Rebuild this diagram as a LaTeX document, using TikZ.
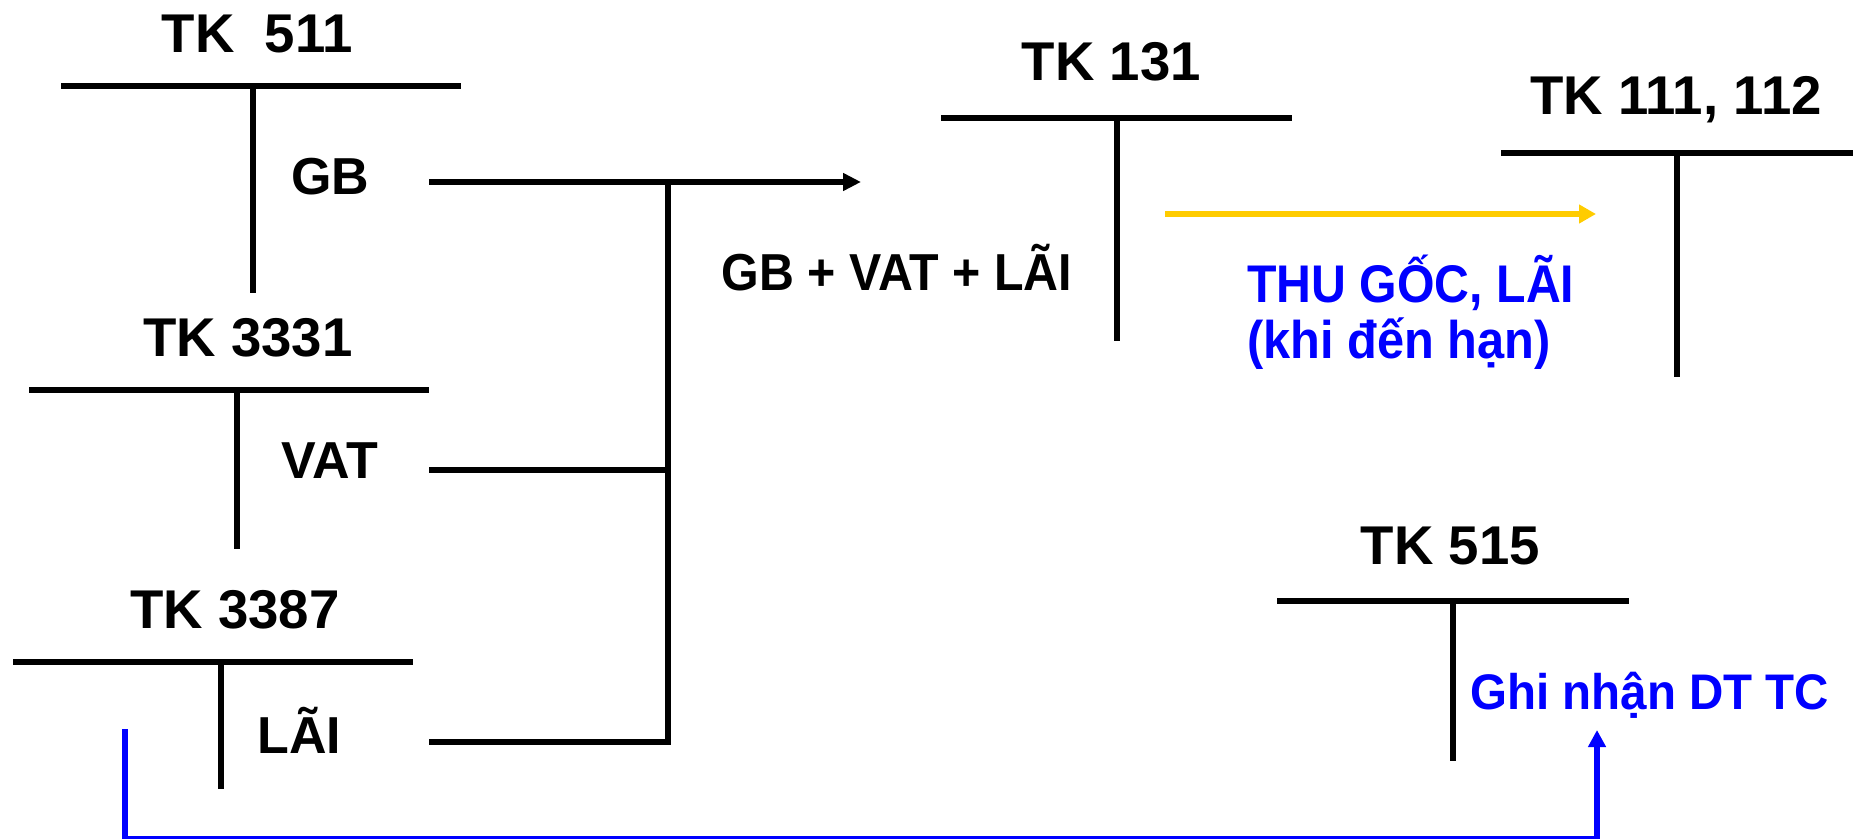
\documentclass[tikz,border=0pt]{standalone}
\usepackage{fontspec}
\setmainfont{Liberation Sans}
\usetikzlibrary{arrows.meta}
\definecolor{pblue}{RGB}{0,0,255}
\definecolor{pgold}{RGB}{255,204,0}
\begin{document}
\begin{tikzpicture}[x=0.5pt,y=-0.5pt,
  hbar/.style={line width=2.9pt},
  vbar/.style={line width=2.8pt},
  conn/.style={line width=2.9pt},
  hd/.style={font=\bfseries\fontsize{27.3}{30}\selectfont, inner sep=0pt, anchor=base},
  lb/.style={font=\bfseries\fontsize{26}{28}\selectfont, inner sep=0pt, anchor=base},
  bl/.style={font=\bfseries\fontsize{26.5}{28}\selectfont, text=pblue, inner sep=0pt, anchor=base west},
  blk/.style={-{Triangle[length=9pt,width=8.5pt]}},
]
\useasboundingbox (0,0) rectangle (1862,839);

% ---- headings
\node[hd] (h511)  at (257.5,53)  {TK\ \ 511};
\node[hd] (h3331) at (248,357)   {TK 3331};
\node[hd] (h3387) at (235,628)   {TK 3387};
\node[hd] (h131)  at (1111.5,81) {TK 131};
\node[hd] (h111)  at (1676,115)  {TK 111, 112};
\node[hd] (h515)  at (1450.5,564){TK 515};

% ---- T-account coordinates
\coordinate (a511l) at (61,86);   \coordinate (a511r) at (461,86);
\coordinate (a511t) at (253,86);  \coordinate (a511b) at (253,293);
\coordinate (a3331l) at (29,390); \coordinate (a3331r) at (429,390);
\coordinate (a3331t) at (237,390);\coordinate (a3331b) at (237,549);
\coordinate (a3387l) at (13,662); \coordinate (a3387r) at (413,662);
\coordinate (a3387t) at (221,662);\coordinate (a3387b) at (221,789);
\coordinate (a131l) at (941,118); \coordinate (a131r) at (1292,118);
\coordinate (a131t) at (1117,118);\coordinate (a131b) at (1117,341);
\coordinate (a111l) at (1501,153);\coordinate (a111r) at (1853,153);
\coordinate (a111t) at (1677,153);\coordinate (a111b) at (1677,377);
\coordinate (a515l) at (1277,601);\coordinate (a515r) at (1629,601);
\coordinate (a515t) at (1453,601);\coordinate (a515b) at (1453,761);

\draw[hbar] (a511l) -- (a511r);   \draw[vbar] (a511t) -- (a511b);
\draw[hbar] (a3331l) -- (a3331r); \draw[vbar] (a3331t) -- (a3331b);
\draw[hbar] (a3387l) -- (a3387r); \draw[vbar] (a3387t) -- (a3387b);
\draw[hbar] (a131l) -- (a131r);   \draw[vbar] (a131t) -- (a131b);
\draw[hbar] (a111l) -- (a111r);   \draw[vbar] (a111t) -- (a111b);
\draw[hbar] (a515l) -- (a515r);   \draw[vbar] (a515t) -- (a515b);

% ---- labels
\node[lb] (gb)  at (330.5,195) {GB};
\node[lb] (vat) at (330,478) {VAT};
\node[lb] (lai) at (299.5,753) {LÃI};
\node[lb] (sum) at (897,291) {\scalebox{0.93}[1]{GB + VAT + LÃI}};
\node[bl] (thu) at (1247,303) {\scalebox{0.91}[1]{THU GỐC, LÃI}};
\node[bl] (khi) at (1247,358) {\scalebox{0.92}[1]{(khi đến hạn)}};
\node[bl, font=\bfseries\fontsize{25}{27}\selectfont] (ghi) at (1470,709) {\scalebox{0.95}[1]{Ghi nhận DT TC}};

% ---- connectors
\coordinate (gbs) at (429,182);  \coordinate (gbj) at (668,182); \coordinate (gbe) at (861,182);
\coordinate (vats) at (429,470); \coordinate (vatj) at (668,470);
\coordinate (lais) at (429,742); \coordinate (laij) at (668,742);
\draw[conn] (gbs) -- (gbj);
\draw[conn, blk] (gbj) -- (gbe);
\draw[conn] (vats) -- (vatj);
\draw[conn] (lais) -- (laij);
\draw[conn, line cap=rect] (gbj) -- (laij);

\coordinate (ys) at (1165,214); \coordinate (ye) at (1596,214);
\draw[pgold, line width=3pt, -{Triangle[length=8.5pt,width=9pt]}] (ys) -- (ye);

\coordinate (bs) at (125,729); \coordinate (bc1) at (125,838.5);
\coordinate (bc2) at (1597,838.5); \coordinate (be) at (1597,730);
\draw[pblue, line width=2.8pt, -{Triangle[length=8.5pt,width=8.5pt]}] (bs) -- (bc1) -- (bc2) -- (be);
\end{tikzpicture}
\end{document}
